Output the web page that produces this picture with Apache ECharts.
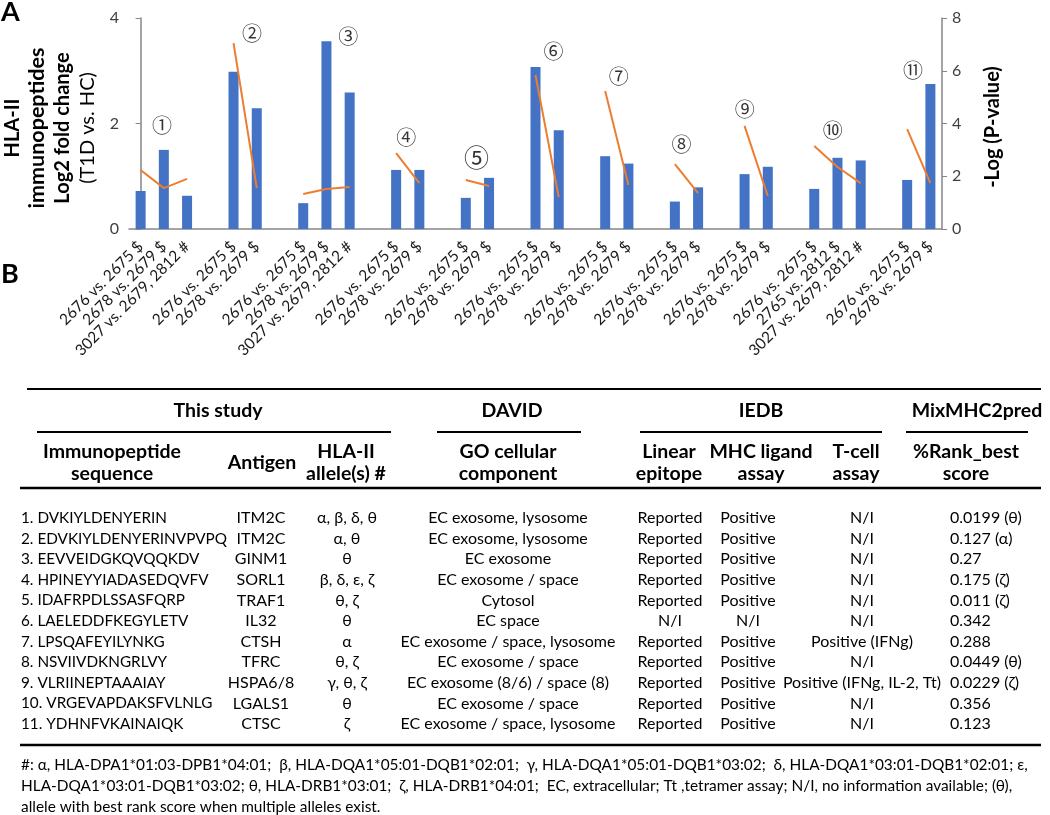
<!DOCTYPE html>
<html><head><meta charset="utf-8">
<script src="https://cdn.jsdelivr.net/npm/echarts@6/dist/echarts.min.js"></script>
<style>html,body{margin:0;padding:0;background:#fff}#c{width:1050px;height:815px}</style>
</head><body><div id="c"></div>
<script>
// ---------- Panel A data ----------
const S = '2676 vs. 2675 $', T = '2678 vs. 2679 $', H = '3027 vs. 2679, 2812 #', U = '2765 vs. 2812 $';
const groupLabels = [
  [S, T, H], [S, T], [S, T, H], [S, T], [S, T], [S, T], [S, T], [S, T], [S, T], [S, U, H], [S, T]
];
const foldChange = [
  [0.72, 1.50, 0.63], [2.98, 2.29], [0.49, 3.56, 2.59], [1.12, 1.12], [0.59, 0.97],
  [3.07, 1.87], [1.38, 1.24], [0.52, 0.79], [1.04, 1.18], [0.76, 1.35, 1.30], [0.93, 2.75]
];
const negLogP = [
  [2.24, 1.55, 1.90], [7.05, 1.55], [1.33, 1.52, 1.59], [2.88, 1.74], [1.86, 1.63],
  [5.84, 1.21], [5.23, 1.67], [2.46, 1.36], [3.91, 1.25], [3.15, 2.35, 1.74], [3.79, 1.74]
];
const peptideMarks = ['①','②','③','④','⑤','⑥','⑦','⑧','⑨','⑩','⑪'];
// annotation anchor in [slot index, log2FC]
const markAnchor = [[0.92,1.97],[4.80,3.70],[8.94,3.66],[11.44,1.74],[14.46,1.35],[17.78,3.36],
  [20.58,2.90],[23.29,1.61],[26.01,2.26],[29.80,1.86],[33.25,3.00]];

// ---------- Panel B data ----------
const groupHeads = ['This study', 'DAVID', 'IEDB', 'MixMHC2pred'];
const colHeads = [['Immunopeptide','sequence'],['Antigen'],['HLA-II','allele(s) #'],['GO cellular','component'],
  ['Linear','epitope'],['MHC ligand','assay'],['T-cell','assay'],['%Rank_best','score']];
const sequences = ['1. DVKIYLDENYERIN','2. EDVKIYLDENYERINVPVPQ','3. EEVVEIDGKQVQQKDV','4. HPINEYYIADASEDQVFV',
  '5. IDAFRPDLSSASFQRP','6. LAELEDDFKEGYLETV','7. LPSQAFEYILYNKG','8. NSVIIVDKNGRLVY','9. VLRIINEPTAAAIAY',
  '10. VRGEVAPDAKSFVLNLG','11. YDHNFVKAINAIQK'];
const antigens = ['ITM2C','ITM2C','GINM1','SORL1','TRAF1','IL32','CTSH','TFRC','HSPA6/8','LGALS1','CTSC'];
const alleles = ['α, β, δ, θ','α, θ','θ','β, δ, ε, ζ','θ, ζ','θ','α','θ, ζ','γ, θ, ζ','θ','ζ'];
const goComp = ['EC exosome, lysosome','EC exosome, lysosome','EC exosome','EC exosome / space','Cytosol','EC space',
  'EC exosome / space, lysosome','EC exosome / space','EC exosome (8/6) / space (8)','EC exosome / space','EC exosome / space, lysosome'];
const linearEpitope = ['Reported','Reported','Reported','Reported','Reported','N/I','Reported','Reported','Reported','Reported','Reported'];
const mhcLigand = ['Positive','Positive','Positive','Positive','Positive','N/I','Positive','Positive','Positive','Positive','Positive'];
const tcellAssay = ['N/I','N/I','N/I','N/I','N/I','N/I','Positive (IFNg)','N/I','Positive (IFNg, IL-2, Tt)','N/I','N/I'];
const rankBest = ['0.0199 (θ)','0.127 (α)','0.27','0.175 (ζ)','0.011 (ζ)','0.342','0.288','0.0449 (θ)','0.0229 (ζ)','0.356','0.123'];
const footnote = [
  '#: α, HLA-DPA1*01:03-DPB1*04:01;  β, HLA-DQA1*05:01-DQB1*02:01;  γ, HLA-DQA1*05:01-DQB1*03:02;  δ, HLA-DQA1*03:01-DQB1*02:01; ε,',
  'HLA-DQA1*03:01-DQB1*03:02; θ, HLA-DRB1*03:01;  ζ, HLA-DRB1*04:01;  EC, extracellular; Tt ,tetramer assay; N/I, no information available; (θ),',
  'allele with best rank score when multiple alleles exist.'
];

// ---------- build flat category arrays (one empty slot between groups) ----------
const cats = [], bars = [], pvals = [];
groupLabels.forEach((g, gi) => {
  if (gi > 0) { cats.push(''); bars.push(null); pvals.push(null); }
  g.forEach((lab, k) => { cats.push(lab); bars.push(foldChange[gi][k]); pvals.push(negLogP[gi][k]); });
});
const nSlots = cats.length;

const FONT = 'Lato';
const txt = (x, y, text, o = {}) => ({
  type: 'text', x, y, silent: true,
  style: Object.assign({ text, fill: '#000', font: `${o.bold ? 'bold ' : ''}${o.size || 16}px ${FONT}`,
    align: o.align || 'left', verticalAlign: 'middle' }, o.style || {})
});
const hline = (x1, x2, y, w) => ({ type: 'line', silent: true, shape: { x1, y1: y, x2, y2: y }, style: { stroke: '#000', lineWidth: w || 2 } });

const graphics = [];
graphics.push(txt(1, 12, 'A', { bold: true, size: 27 }));
graphics.push(txt(1, 274, 'B', { bold: true, size: 27 }));
// left axis title
graphics.push({ type: 'text', x: 50, y: 128, rotation: Math.PI / 2, silent: true,
  style: { text: '{b|HLA-II}\n{w|immunopeptides}\n{b|Log2 fold change}\n{r|(T1D vs. HC)}', align: 'center', verticalAlign: 'middle',
    rich: { b: { font: `bold 20px ${FONT}`, lineHeight: 25, fill: '#000', align: 'center' },
      w: { font: `bold 21.5px ${FONT}`, lineHeight: 25, fill: '#000', align: 'center' },
      r: { font: `20px ${FONT}`, lineHeight: 25, fill: '#000', align: 'center' } } } });
graphics.push({ type: 'text', x: 993, y: 127, rotation: Math.PI / 2, silent: true,
  style: { text: '-Log (P-value)', align: 'center', verticalAlign: 'middle', font: `bold 20px ${FONT}`, fill: '#000' } });

// table
const HB = 19.5;
graphics.push(hline(27, 1041, 389, 2));
const ghX = [218, 512, 761, 977];
groupHeads.forEach((t, i) => graphics.push(txt(ghX[i], 411, t, { bold: true, align: 'center', size: HB })));
[[37, 391], [437, 581], [640, 882], [906, 1028]].forEach(s => graphics.push(hline(s[0], s[1], 432, 2)));
const chX = [112, 262, 346, 508, 669, 761, 856, 966];
colHeads.forEach((h, i) => {
  if (h.length === 1) graphics.push(txt(chX[i], 463, h[0], { bold: true, align: 'center', size: HB }));
  else { graphics.push(txt(chX[i], 452, h[0], { bold: true, align: 'center', size: HB })); graphics.push(txt(chX[i], 474, h[1], { bold: true, align: 'center', size: HB })); }
});
graphics.push(hline(20, 1041, 488, 2.5));
const cols = [
  [sequences, 21, 'left', 15.3], [antigens, 261, 'center', 16], [alleles, 347, 'center', 16], [goComp, 508, 'center', 16],
  [linearEpitope, 670, 'center', 16], [mhcLigand, 748, 'center', 16], [tcellAssay, 862, 'center', 16], [rankBest, 950, 'left', 16]
];
cols.forEach(c => c[0].forEach((v, r) => graphics.push(txt(c[1], 518 + r * 20.6, v, { align: c[2], size: c[3] }))));
graphics.push(hline(20, 1041, 745, 2.5));
footnote.forEach((t, i) => graphics.push(txt(21, 765 + i * 21, t, { size: 15.4 })));

const option = {
  animation: false,
  backgroundColor: '#fff',
  grid: { left: 129, right: 108, top: 18, bottom: 586, containLabel: false },
  xAxis: [
    { type: 'category', data: cats, axisLine: { lineStyle: { color: '#868686', width: 1.5 } }, axisTick: { show: false },
      axisLabel: { interval: 0, rotate: 45, fontSize: 15.5, fontFamily: FONT, color: '#1a1a1a', margin: 15 } },
    { type: 'value', min: -0.5, max: nSlots - 0.5, show: false }
  ],
  yAxis: [
    { type: 'value', min: 0, max: 4, interval: 2, splitLine: { show: false },
      axisLine: { show: true, lineStyle: { color: '#868686', width: 1.5 } }, axisTick: { show: true, length: 5, lineStyle: { color: '#868686' } },
      axisLabel: { fontSize: 16, fontFamily: FONT, color: '#404040', margin: 10 } },
    { type: 'value', min: 0, max: 8, interval: 2, splitLine: { show: false },
      axisLine: { show: true, lineStyle: { color: '#868686', width: 1.5 } }, axisTick: { show: true, length: 5, lineStyle: { color: '#868686' } },
      axisLabel: { fontSize: 16, fontFamily: FONT, color: '#404040', margin: 10 } }
  ],
  series: [
    { type: 'bar', data: bars, barWidth: 10, itemStyle: { color: '#4472C4' }, xAxisIndex: 0, yAxisIndex: 0 },
    { type: 'line', data: pvals, yAxisIndex: 1, xAxisIndex: 0, symbol: 'none', connectNulls: false,
      lineStyle: { color: '#ED7D31', width: 2 }, itemStyle: { color: '#ED7D31' } },
    { type: 'scatter', xAxisIndex: 1, yAxisIndex: 0, symbolSize: 1, itemStyle: { color: 'rgba(0,0,0,0)' },
      data: markAnchor.map((p, i) => ({ value: p, label: { formatter: peptideMarks[i], fontSize: i === 4 ? 25 : 20 } })),
      label: { show: true, position: 'inside', color: '#000', fontFamily: 'Noto Sans CJK JP' } }
  ],
  graphic: graphics
};
echarts.init(document.getElementById('c')).setOption(option);
</script></body></html>
